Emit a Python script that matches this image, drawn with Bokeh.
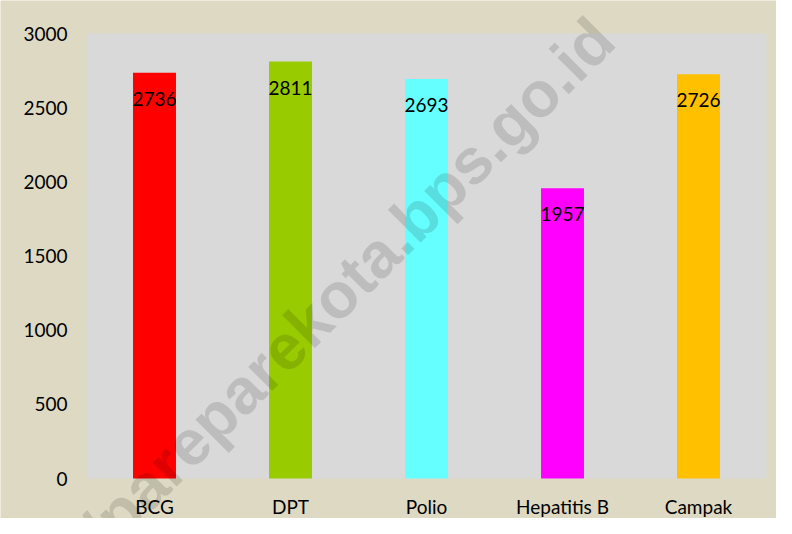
import math
import numpy as np
from bokeh.plotting import figure
from bokeh.models import (ColumnDataSource, LabelSet, Label, FixedTicker, Range1d,
                          LinearAxis, BoxAnnotation)
from bokeh.core.properties import value
from bokeh.embed import file_html
from bokeh.resources import INLINE

# ---- data ----
categories = ["BCG", "DPT", "Polio", "Hepatitis B", "Campak"]
values = [2736, 2811, 2693, 1957, 2726]
colors = ["#ff0000", "#99cc00", "#66ffff", "#ff00ff", "#ffc000"]
y_ticks = [0, 500, 1000, 1500, 2000, 2500, 3000]
watermark = "//pareparekota.bps.go.id"

# ---- layout (pixels) ----
W, H = 776, 518
AREA_L, AREA_R, AREA_T, AREA_B = 86, 766, 33, 478
FONT = "Lato"

n = len(categories)
xpos = list(range(n))
x_lo, x_hi = -0.5, n - 0.5
y_lo, y_hi = 0, y_ticks[-1]
px_x = (AREA_R - AREA_L) / (x_hi - x_lo)
px_y = (AREA_B - AREA_T) / (y_hi - y_lo)

src = ColumnDataSource(dict(x=xpos, val=values, color=colors,
                            lbl=[str(v) for v in values]))

p = figure(width=W, height=H,
           x_range=Range1d(x_lo - AREA_L / px_x, x_hi + (W - AREA_R) / px_x),
           y_range=Range1d(y_lo - (H - AREA_B) / px_y, y_hi + AREA_T / px_y),
           x_axis_location=None, y_axis_location=None, title=None,
           min_border=0, min_border_left=0, min_border_right=0,
           min_border_top=0, min_border_bottom=0,
           output_backend="svg", toolbar_location=None)

p.background_fill_color = "#ddd9c3"
p.border_fill_color = "#ddd9c3"
p.outline_line_color = None
p.grid.grid_line_color = None

# plot area
p.add_layout(BoxAnnotation(left=x_lo, right=x_hi, bottom=y_lo, top=y_hi,
                           fill_color="#d9d9d9", fill_alpha=1.0, line_color=None,
                           level="underlay"))

p.vbar(x="x", top="val", width=0.316, color="color", line_color=None, source=src)

p.add_layout(LabelSet(x="x", y="val", text="lbl", source=src, y_offset=-26,
                      text_align="center", text_baseline="middle",
                      text_font=value(FONT), text_font_size="19px", text_color="black"))

def style(ax):
    ax.axis_line_color = None
    ax.major_tick_line_color = None
    ax.minor_tick_line_color = None
    ax.major_tick_in = 0
    ax.major_tick_out = 0
    ax.major_label_text_font = FONT
    ax.major_label_text_font_size = "19px"
    ax.major_label_text_color = "black"

xaxis = LinearAxis(fixed_location=y_lo, ticker=FixedTicker(ticks=xpos),
                   major_label_overrides={i: c for i, c in zip(xpos, categories)},
                   major_label_standoff=16)
style(xaxis)
p.add_layout(xaxis, "below")

yaxis = LinearAxis(fixed_location=x_lo, ticker=FixedTicker(ticks=y_ticks),
                   major_label_standoff=19)
style(yaxis)
p.add_layout(yaxis, "left")

# watermark
p.add_layout(Label(x=341, y=290, x_units="canvas", y_units="canvas",
                   text=watermark, angle=math.radians(45),
                   text_align="center", text_baseline="alphabetic",
                   text_font="Liberation Sans", text_font_style="bold",
                   text_font_size="64px", text_color="black", text_alpha=0.13))

open("out.html", "w").write(file_html(p, INLINE))
